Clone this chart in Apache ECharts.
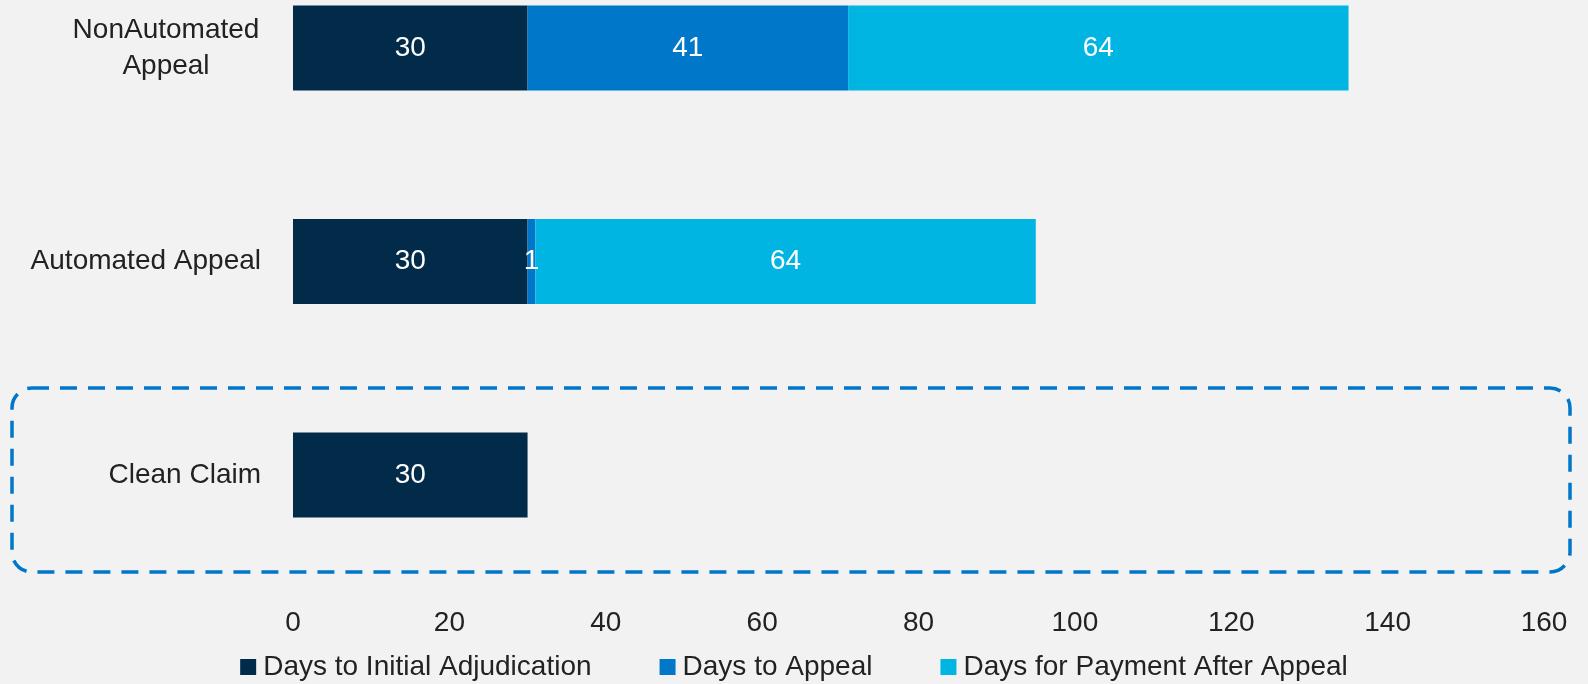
<!DOCTYPE html>
<html>
<head>
<meta charset="utf-8">
<script src="https://cdn.jsdelivr.net/npm/echarts@6/dist/echarts.min.js"></script>
<style>
  html, body { margin: 0; padding: 0; background: #F2F2F2; }
  #chart { width: 1588px; height: 684px; }
</style>
</head>
<body>
<div id="chart"></div>
<script>
// Claim timelines, in days, top row first
const categories = ['NonAutomated Appeal', 'Automated Appeal', 'Clean Claim'];
const seriesNames = ['Days to Initial Adjudication', 'Days to Appeal', 'Days for Payment After Appeal'];
const initialAdjudication = [30, 30, 30];
const toAppeal = [41, 1, null];
const paymentAfterAppeal = [64, 64, null];
const xTicks = [0, 20, 40, 60, 80, 100, 120, 140, 160];

const colors = ['#022B4A', '#0077C8', '#00B5E2'];
const FONT = '"Liberation Sans", Arial, sans-serif';
const TEXT = '#222222';

const chart = echarts.init(document.getElementById('chart'));

function barSeries(name, data, color) {
  return {
    name: name,
    type: 'bar',
    stack: 'days',
    data: data,
    barWidth: 85,
    clip: false,
    itemStyle: { color: color },
    label: {
      show: true,
      position: 'inside',
      color: '#FFFFFF',
      fontFamily: FONT,
      fontSize: 28,
      formatter: p => (p.value == null ? '' : String(p.value))
    },
    emphasis: { disabled: true }
  };
}

chart.setOption({
  backgroundColor: '#F2F2F2',
  animation: false,
  color: colors,
  textStyle: { fontFamily: FONT },
  // category rows sit on the grid edges (boundaryGap false): top row at grid top, last row at grid bottom
  grid: { left: 293, right: 44, top: 48, bottom: 209, containLabel: false },
  xAxis: {
    type: 'value',
    min: xTicks[0],
    max: xTicks[xTicks.length - 1],
    interval: xTicks[1] - xTicks[0],
    axisLine: { show: false },
    axisTick: { show: false },
    splitLine: { show: false },
    axisLabel: { color: TEXT, fontFamily: FONT, fontSize: 28, margin: 134 }
  },
  yAxis: {
    type: 'category',
    data: categories,
    inverse: true,
    boundaryGap: false,
    axisLine: { show: false },
    axisTick: { show: false },
    splitLine: { show: false },
    axisLabel: {
      margin: 32,
      align: 'right',
      formatter: v => {
        if (v === 'NonAutomated Appeal') return '{w|NonAutomated}\n{w|Appeal}';
        return '{s|' + v + '}';
      },
      rich: {
        w: { width: 190, align: 'center', color: TEXT, fontFamily: FONT, fontSize: 28, lineHeight: 36 },
        s: { color: TEXT, fontFamily: FONT, fontSize: 28 }
      }
    }
  },
  legend: {
    data: seriesNames,
    left: 'center',
    top: 648,
    itemWidth: 16,
    itemHeight: 16,
    itemGap: 68,
    icon: 'rect',
    textStyle: { color: TEXT, fontFamily: FONT, fontSize: 28, padding: [0, 0, 0, 2] }
  },
  graphic: [{
    type: 'rect',
    shape: { x: 12, y: 388, width: 1558, height: 184, r: 20 },
    style: { fill: 'none', stroke: '#0077C8', lineWidth: 3.5, lineDash: [17, 11] },
    silent: true
  }],
  series: [
    barSeries(seriesNames[0], initialAdjudication, colors[0]),
    barSeries(seriesNames[1], toAppeal, colors[1]),
    barSeries(seriesNames[2], paymentAfterAppeal, colors[2])
  ]
});
</script>
</body>
</html>
